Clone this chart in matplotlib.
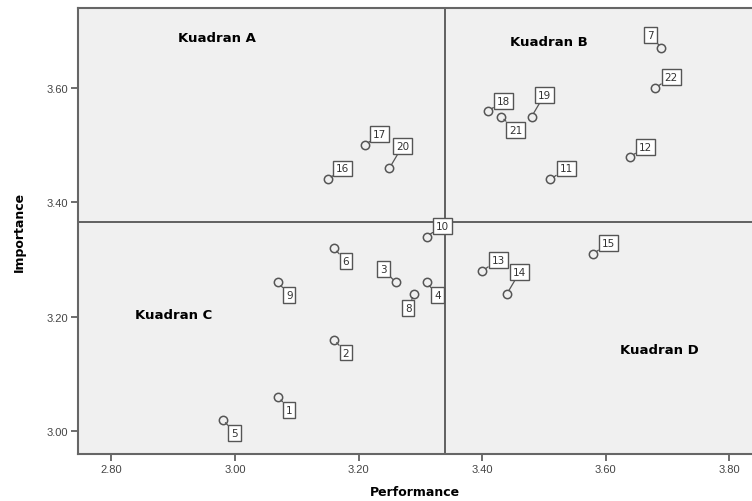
import matplotlib
matplotlib.use("Agg")
import matplotlib.pyplot as plt

ids = [1, 2, 3, 4, 5, 6, 7, 8, 9, 10, 11, 12, 13, 14, 15, 16, 17, 18, 19, 20, 21, 22]
performance = [3.07, 3.16, 3.26, 3.31, 2.98, 3.16, 3.69, 3.29, 3.07, 3.31, 3.51,
               3.64, 3.40, 3.44, 3.58, 3.15, 3.21, 3.41, 3.48, 3.25, 3.43, 3.68]
importance = [3.06, 3.16, 3.26, 3.26, 3.02, 3.32, 3.67, 3.24, 3.26, 3.34, 3.44,
              3.48, 3.28, 3.24, 3.31, 3.44, 3.50, 3.56, 3.55, 3.46, 3.55, 3.60]
mean_performance = 3.34
mean_importance = 3.365
x_ticks = [2.80, 3.00, 3.20, 3.40, 3.60, 3.80]
y_ticks = [3.00, 3.20, 3.40, 3.60]
quadrant_names = ["Kuadran A", "Kuadran B", "Kuadran C", "Kuadran D"]

# label offsets (pixels, screen coords: +x right, +y up)
offsets = {1: (11, -13), 2: (12, -13), 3: (-12, 13), 4: (11, -13), 5: (12, -13),
           6: (12, -13), 7: (-11, 13), 8: (-6, -14), 9: (11, -13), 10: (16, 11),
           11: (16, 11), 12: (15, 10), 13: (16, 11), 14: (13, 22), 15: (15, 11),
           16: (15, 11), 17: (15, 11), 18: (15, 10), 19: (13, 22), 20: (13, 22),
           21: (15, -13), 22: (16, 11)}
quad_pos = [(0.206, 0.933), (0.699, 0.926), (0.142, 0.312), (0.862, 0.235)]

W, H = 752, 502
fig = plt.figure(figsize=(W / 100, H / 100), dpi=100)
ax = fig.add_axes([78 / W, (H - 455) / H, (W - 78) / W, (455 - 9) / H])
ax.set_facecolor("#F0F0F0")

ax.set_xlim(2.746, 3.8366)
ax.set_ylim(2.9598, 3.740)

ax.axvline(mean_performance, color="#555555", lw=1.3, zorder=1)
ax.axhline(mean_importance, color="#555555", lw=1.3, zorder=1)

ax.plot(performance, importance, linestyle="none", marker="o", markersize=6,
        markerfacecolor="#F0F0F0", markeredgecolor="#555555", markeredgewidth=1.1,
        zorder=3)

for i, x, y in zip(ids, performance, importance):
    dx, dy = offsets[i]
    ax.annotate(str(i), xy=(x, y), xytext=(dx * 0.72, dy * 0.72),
                textcoords="offset points", ha="center", va="center",
                fontsize=7.5, family="DejaVu Sans", color="#333333",
                bbox=dict(boxstyle="square,pad=0.28", fc="white", ec="#555555", lw=1.0),
                arrowprops=dict(arrowstyle="-", color="#555555", lw=0.9,
                                shrinkA=0, shrinkB=3),
                zorder=4)

for name, (px, py) in zip(quadrant_names, quad_pos):
    ax.text(px, py, name, transform=ax.transAxes, ha="center", va="center",
            fontsize=9.5, fontweight="bold", family="DejaVu Sans", color="black")

ax.set_xticks(x_ticks)
ax.set_xticklabels([f"{v:.2f}" for v in x_ticks])
ax.set_yticks(y_ticks)
ax.set_yticklabels([f"{v:.2f}" for v in y_ticks])
ax.tick_params(direction="out", length=5, width=1.2, color="#555555",
               labelsize=8, labelcolor="#444444", pad=2)
for lab in ax.get_xticklabels() + ax.get_yticklabels():
    lab.set_family("Liberation Sans")

for s in ["left", "bottom", "top"]:
    ax.spines[s].set_color("#666666")
    ax.spines[s].set_linewidth(1.5)
ax.spines["right"].set_visible(False)

ax.set_xlabel("Performance", fontsize=9, fontweight="bold", family="DejaVu Sans",
              labelpad=8)
ax.set_ylabel("Importance", fontsize=9, fontweight="bold", family="DejaVu Sans",
              labelpad=15)

fig.savefig("out.png", dpi=100)
